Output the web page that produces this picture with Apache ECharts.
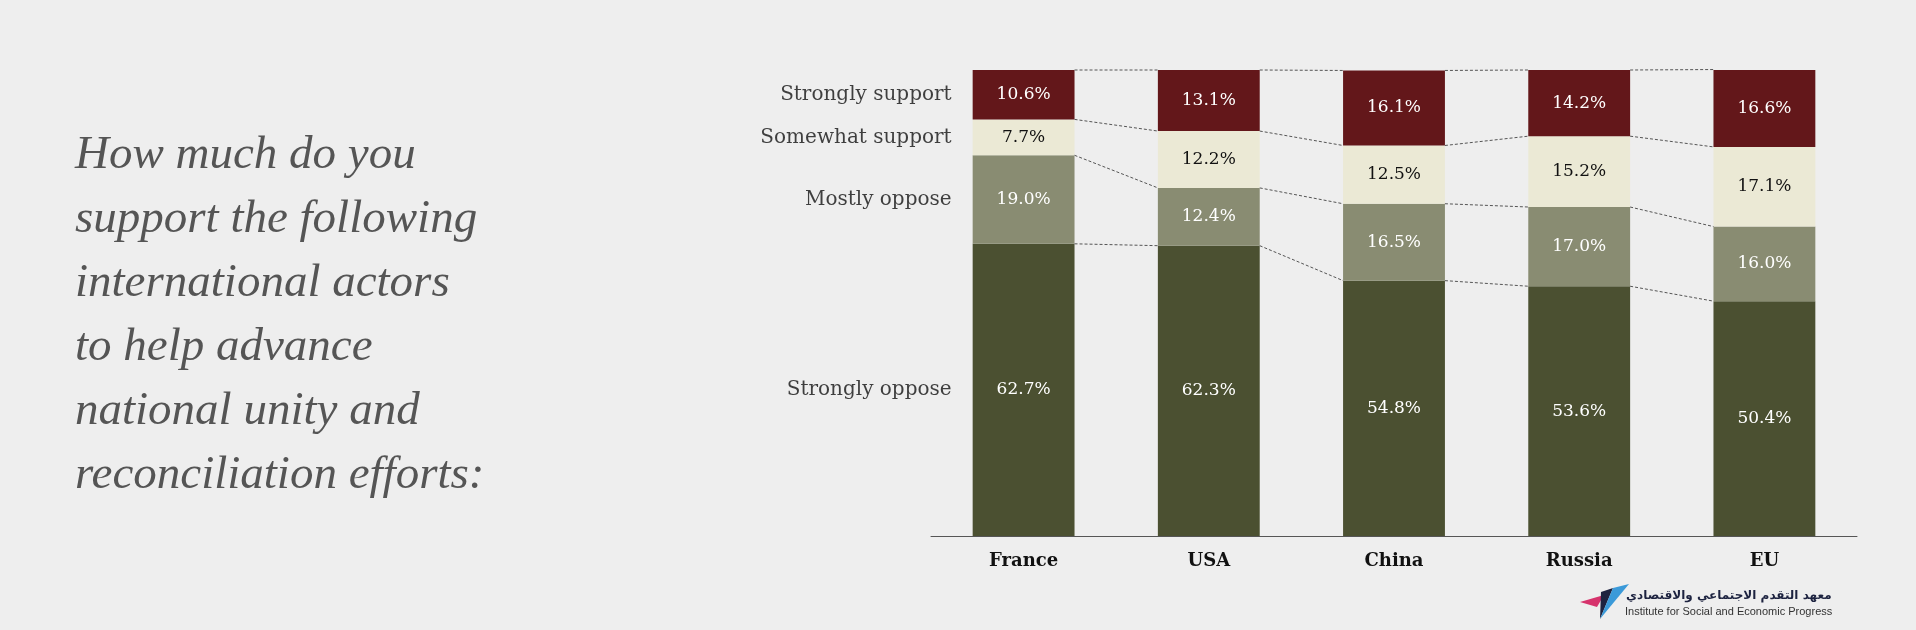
<!DOCTYPE html>
<html>
<head>
<meta charset="utf-8">
<script src="https://cdn.jsdelivr.net/npm/echarts@6/dist/echarts.min.js"></script>
<style>
  html, body { margin: 0; padding: 0; background: #eeeeee; }
  #chart { width: 1916px; height: 630px; }
</style>
</head>
<body>
<div id="chart"></div>
<script>
// data
const categories = ['France', 'USA', 'China', 'Russia', 'EU'];
const seriesNames = ['Strongly oppose', 'Mostly oppose', 'Somewhat support', 'Strongly support'];
const stronglyOppose = [62.7, 62.3, 54.8, 53.6, 50.4];
const mostlyOppose = [19.0, 12.4, 16.5, 17.0, 16.0];
const somewhatSupport = [7.7, 12.2, 12.5, 15.2, 17.1];
const stronglySupport = [10.6, 13.1, 16.1, 14.2, 16.6];

const valueSets = [stronglyOppose, mostlyOppose, somewhatSupport, stronglySupport];
const colors = ['#4b5031', '#898c72', '#ebe9d5', '#63171a'];
const labelColors = ['#ffffff', '#ffffff', '#111111', '#ffffff'];
const serif = 'DejaVu Serif';
const barWidthRatio = 0.55;

// cumulative tops for each level, per category
const cumTops = valueSets.map((_, k) =>
  categories.map((c, i) => {
    let s = 0;
    for (let j = 0; j <= k; j++) s += valueSets[j][i];
    return s;
  })
);

const chart = echarts.init(document.getElementById('chart'));

const barSeries = valueSets.map((vals, k) => ({
  name: seriesNames[k],
  type: 'bar',
  stack: 'total',
  barWidth: (barWidthRatio * 100) + '%',
  data: vals,
  itemStyle: { color: colors[k] },
  label: {
    show: true,
    position: 'inside',
    color: labelColors[k],
    fontFamily: serif,
    fontSize: 17,
    formatter: p => p.value.toFixed(1) + '%'
  },
  emphasis: { disabled: true }
}));

// row names placed next to the first bar, at the middle of each segment
const rowLabelSeries = {
  type: 'scatter',
  symbolSize: 0,
  data: valueSets.map((vals, k) => [0, cumTops[k][0] - vals[0] / 2]),
  label: {
    show: true,
    position: 'left',
    distance: 72,
    color: '#111',
    fontFamily: serif,
    fontSize: 20,
    formatter: p => seriesNames[p.dataIndex]
  },
  silent: true,
  z: 5
};

// dashed series lines joining the segment tops between neighbouring bars
const connectorSeries = {
  type: 'custom',
  silent: true,
  data: categories.slice(0, -1).map((c, i) => [i]),
  renderItem: (params, api) => {
    const i = api.value(0);
    const band = api.size([1, 0])[0];
    const half = band * barWidthRatio / 2;
    const children = cumTops.map(tops => {
      const a = api.coord([i, tops[i]]);
      const b = api.coord([i + 1, tops[i + 1]]);
      return {
        type: 'line',
        shape: { x1: a[0] + half, y1: a[1], x2: b[0] - half, y2: b[1] },
        style: { stroke: '#555', lineWidth: 1, lineDash: [3, 2] }
      };
    });
    return { type: 'group', children };
  },
  z: 3
};

chart.setOption({
  backgroundColor: '#eeeeee',
  animation: false,
  title: {
    text: 'How much do you\nsupport the following\ninternational actors\nto help advance\nnational unity and\nreconciliation efforts:',
    left: 70,
    top: 119,
    textStyle: {
      fontFamily: 'Liberation Serif',
      fontStyle: 'italic',
      fontWeight: 'normal',
      fontSize: 47,
      lineHeight: 64,
      color: '#555555'
    }
  },
  grid: { left: 931, right: 59, top: 70, bottom: 94 },
  xAxis: {
    type: 'category',
    data: categories,
    axisLine: { lineStyle: { color: '#555', width: 1 } },
    axisTick: { show: false },
    axisLabel: {
      margin: 16,
      color: '#111',
      fontFamily: serif,
      fontWeight: 'bold',
      fontSize: 18
    }
  },
  yAxis: {
    type: 'value',
    min: 0,
    max: 100,
    show: false
  },
  series: [...barSeries, rowLabelSeries, connectorSeries],
  graphic: [
    { type: 'polygon', shape: { points: [[1580, 602], [1604, 595], [1597, 607]] }, style: { fill: '#d6336c' } },
    { type: 'polygon', shape: { points: [[1601, 592], [1613, 588], [1600, 619]] }, style: { fill: '#1d2340' } },
    { type: 'polygon', shape: { points: [[1613, 588], [1629, 584], [1600, 619]] }, style: { fill: '#3b9ad9' } },
    {
      type: 'text', left: 1626, top: 590,
      style: { text: 'معهد التقدم الاجتماعي والاقتصادي', font: 'bold 12px "DejaVu Sans"', fill: '#1d2340' }
    },
    {
      type: 'text', left: 1625, top: 606,
      style: { text: 'Institute for Social and Economic Progress', font: '11px "Liberation Sans"', fill: '#333' }
    }
  ]
});
</script>
</body>
</html>
